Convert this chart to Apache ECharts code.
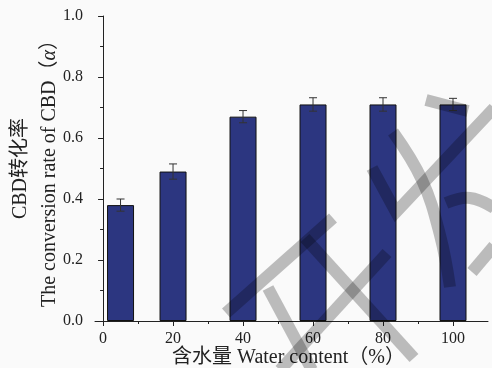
<!DOCTYPE html>
<html>
<head>
<meta charset="utf-8">
<script src="https://cdn.jsdelivr.net/npm/echarts@6/dist/echarts.min.js"></script>
<style>html,body{margin:0;padding:0;background:#fafafa;}#c{width:492px;height:368px;}</style>
</head>
<body>
<div id="c"></div>
<script>
const waterContent = [5, 20, 40, 60, 80, 100];
const conversion = [0.38, 0.49, 0.67, 0.71, 0.71, 0.71];
const errors = [0.02, 0.025, 0.02, 0.022, 0.022, 0.02];
const xMajorTicks = [0, 20, 40, 60, 80, 100];
const xMinorTicks = [10, 30, 50, 70, 90];

const serif = '"Liberation Serif","DejaVu Serif","Noto Sans CJK SC",serif';
const wmColor = 'rgba(0,0,0,0.25)';
const wmStrokes = [
  [[226,313],[333,218]],
  [[268,288],[312,370]],
  [[280,370],[387,253]],
  [[305,238],[414,358]],
  [[372,168],[396,212],[494,108]],
  [[426,100],[468,111]],
  [[393,132],[422,180],[440,235],[450,287]],
  [[446,203],[470,198],[494,208]],
  [[472,272],[494,246]]
];

const chart = echarts.init(document.getElementById('c'), null, {renderer:'canvas'});
chart.setOption({
  backgroundColor: '#fafafa',
  animation: false,
  grid: {left: 95, right: 4, top: 16, bottom: 47, containLabel: false, outerBoundsMode: 'none'},
  xAxis: [{
    type: 'value', min: -2.3, max: 110,
    axisLine: {lineStyle: {color: '#222', width: 1}},
    axisTick: {customValues: xMajorTicks, length: 5, lineStyle: {color: '#222'}},
    axisLabel: {customValues: xMajorTicks, margin: 10, fontFamily: serif, fontSize: 16, color: '#222'},
    splitLine: {show: false},
    name: '含水量 Water content（%）', nameLocation: 'middle', nameGap: 27, nameMoveOverlap: false,
    nameTextStyle: {fontFamily: serif, fontSize: 20, color: '#222', padding: [0, 6, 0, 0]}
  }, {
    type: 'value', min: -2.3, max: 110, position: 'bottom',
    axisLine: {show: false},
    axisTick: {customValues: xMinorTicks, length: 3, lineStyle: {color: '#222'}},
    axisLabel: {show: false},
    splitLine: {show: false}
  }],
  yAxis: {
    type: 'value', min: 0, max: 1.0, interval: 0.2,
    axisLine: {show: true, lineStyle: {color: '#222', width: 1}},
    axisTick: {show: true, length: 5, lineStyle: {color: '#222'}},
    minorTick: {show: true, splitNumber: 2, length: 3, lineStyle: {color: '#222'}},
    axisLabel: {margin: 12, fontFamily: serif, fontSize: 16, color: '#222', formatter: v => v.toFixed(1)},
    splitLine: {show: false},
    name: 'CBD转化率\nThe conversion rate of CBD（{i|α}）',
    nameLocation: 'middle', nameGap: 31, nameRotate: 90, nameMoveOverlap: false,
    nameTextStyle: {fontFamily: serif, fontSize: 20, color: '#222', lineHeight: 29,
      rich: {i: {fontFamily: serif, fontSize: 20, fontStyle: 'italic', color: '#222'}}}
  },
  series: [{
    type: 'bar',
    xAxisIndex: 0,
    barWidth: 27,
    data: waterContent.map((x, i) => [x, conversion[i]]),
    itemStyle: {color: '#2c3680', borderColor: '#111', borderWidth: 1},
    z: 2
  }, {
    type: 'custom',
    xAxisIndex: 0,
    data: waterContent.map((x, i) => [x, conversion[i], errors[i]]),
    encode: {x: 0, y: 1},
    z: 5,
    renderItem: function (params, api) {
      const x = api.value(0), y = api.value(1), e = api.value(2);
      const top = api.coord([x, y + e]);
      const bot = api.coord([x, y - e]);
      const hw = 4;
      const st = {stroke: '#333', lineWidth: 1};
      return {type: 'group', children: [
        {type: 'line', shape: {x1: top[0], y1: top[1], x2: bot[0], y2: bot[1]}, style: st},
        {type: 'line', shape: {x1: top[0] - hw, y1: top[1], x2: top[0] + hw, y2: top[1]}, style: st},
        {type: 'line', shape: {x1: bot[0] - hw, y1: bot[1], x2: bot[0] + hw, y2: bot[1]}, style: st}
      ]};
    }
  }],
  graphic: wmStrokes.map((pts, k) => ({
    type: 'polyline', silent: true, z: 100,
    shape: {points: pts, smooth: (k === 6 || k === 7) ? 0.4 : 0},
    style: {stroke: wmColor, lineWidth: 12, fill: null, lineCap: 'butt', lineJoin: 'miter'}
  }))
});
</script>
</body>
</html>
